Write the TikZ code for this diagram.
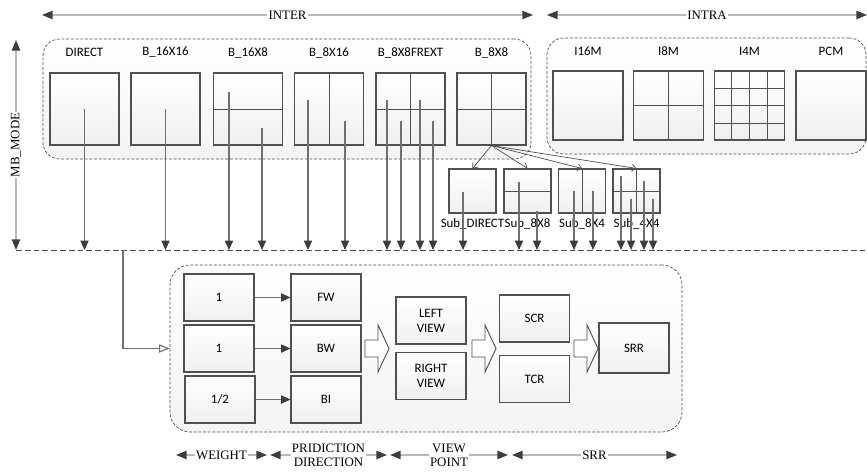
\documentclass[tikz,border=0pt]{standalone}
\usepackage{fontspec}
\setmainfont{Carlito}
\newfontfamily\axisfont{Liberation Serif}
\usetikzlibrary{arrows.meta,calc,positioning}
\definecolor{edgegray}{HTML}{505050}
\definecolor{linegray}{HTML}{707070}
\definecolor{tipgray}{HTML}{3C3C3C}
\tikzset{
  grp/.style={draw=edgegray, dash pattern=on 2.5pt off 1.5pt, line width=0.6pt, rounded corners=0.5cm, top color=white, bottom color=gray!9, inner sep=0pt},
  blk/.style={draw=edgegray, line width=0.9pt, top color=white, bottom color=gray!12, inner sep=0pt},
  mbox/.style={blk, minimum width=2.07cm, minimum height=2.16cm},
  ibox/.style={blk, minimum width=2.1cm, minimum height=2.07cm},
  sbox/.style={blk, minimum width=1.41cm, minimum height=1.32cm},
  fbox/.style={blk, minimum width=2.1cm, minimum height=1.41cm, align=center, font=\fontsize{11}{13}\selectfont},
  part/.style={draw=edgegray, line width=0.8pt},
  flow/.style={draw=linegray, line width=0.9pt, -{Triangle[length=8pt,width=7pt,color=tipgray]}},
  fork/.style={draw=edgegray, line width=0.6pt, -{Straight Barb[length=3.5pt,width=6pt]}},
  feed/.style={draw=linegray, line width=0.9pt, -{Triangle[open,length=9pt,width=7pt,fill=white]}},
  bus/.style={draw=edgegray, line width=0.7pt, dash pattern=on 5pt off 2.5pt},
  axis/.style={draw=gray!55, line width=1.4pt, {Triangle[length=9pt,width=7pt,color=tipgray]}-{Triangle[length=9pt,width=7pt,color=tipgray]}},
  axlbl/.style={fill=white, inner sep=1pt, align=center, font=\axisfont\fontsize{11}{12}\selectfont},
  lbl/.style={inner sep=0pt, font=\fontsize{11}{13}\selectfont},
  bigarrow/.style={draw=edgegray, line width=0.8pt, fill=white},
}
\begin{document}
\begin{tikzpicture}[x=0.03cm, y=-0.03cm]
  \useasboundingbox (0,0) rectangle (867,471);

  % mode groups
  \node[grp, minimum width=14.64cm, minimum height=3.6cm] (inter) at (287,99) {};
  \node[grp, minimum width=9.57cm, minimum height=3.48cm] (intra) at (706.5,96) {};

  % inter modes
  \node[mbox] (bdir) at (84.5,109) {};
  \node[mbox] (b1616) at (165.5,109) {};
  \node[mbox] (b168) at (248,109) {};
  \node[mbox] (b816) at (329,109) {};
  \node[mbox] (bfrext) at (410.5,109) {};
  \node[mbox] (b88) at (491.5,109) {};
  \node[lbl] at ($(bdir.north)+(0,-20)$) {DIRECT};
  \node[lbl] at ($(b1616.north)+(0,-20)$) {B\_16X16};
  \node[lbl] at ($(b168.north)+(0,-20)$) {B\_16X8};
  \node[lbl] at ($(b816.north)+(0,-20)$) {B\_8X16};
  \node[lbl] at ($(bfrext.north)+(0,-20)$) {B\_8X8FREXT};
  \node[lbl] at ($(b88.north)+(0,-20)$) {B\_8X8};
  \draw[part] (b168.west) -- (b168.east);
  \draw[part] (b816.north) -- (b816.south);
  \draw[part] (bfrext.north) -- (bfrext.south) (bfrext.west) -- (bfrext.east);
  \draw[part] (b88.north) -- (b88.south) (b88.west) -- (b88.east);

  % intra modes
  \node[ibox] (i16) at (588,105.5) {};
  \node[ibox] (i8) at (668.5,105.5) {};
  \node[ibox] (i4) at (749.5,105.5) {};
  \node[ibox] (pcm) at (831,105.5) {};
  \node[lbl] at ($(i16.north)+(0,-19)$) {I16M};
  \node[lbl] at ($(i8.north)+(0,-19)$) {I8M};
  \node[lbl] at ($(i4.north)+(0,-19)$) {I4M};
  \node[lbl] at ($(pcm.north)+(0,-19)$) {PCM};
  \draw[part] (i8.north) -- (i8.south) (i8.west) -- (i8.east);
  \foreach \f in {0.25,0.5,0.75} {
    \draw[part] ($(i4.north west)!\f!(i4.north east)$) -- ($(i4.south west)!\f!(i4.south east)$);
    \draw[part] ($(i4.north west)!\f!(i4.south west)$) -- ($(i4.north east)!\f!(i4.south east)$);
  }

  % sub partitions of B_8X8
  \node[sbox] (sdir) at (472.5,191) {};
  \node[sbox] (s88) at (527.5,191) {};
  \node[sbox] (s84) at (582,191) {};
  \node[sbox] (s44) at (636.5,191) {};
  \node[lbl, below=0.15cm of sdir] {Sub\_DIRECT};
  \node[lbl, below=0.15cm of s88] {Sub\_8X8};
  \node[lbl, below=0.15cm of s84] {Sub\_8X4};
  \node[lbl, below=0.15cm of s44] {Sub\_4X4};
  \draw[part] (s88.west) -- (s88.east);
  \draw[part] (s84.north) -- (s84.south);
  \draw[part] (s44.north) -- (s44.south) (s44.west) -- (s44.east);
  \foreach \s in {sdir,s88,s84,s44}
    \draw[fork] (b88.south) -- (\s.north);

  % mode axes
  \coordinate (interL) at (42,15);
  \coordinate (interR) at (533,15);
  \coordinate (intraL) at (547,15);
  \coordinate (intraR) at (867,15);
  \coordinate (mbT) at (16,40);
  \coordinate (mbB) at (16,250);
  \draw[axis] (interL) -- node[axlbl]{INTER} (interR);
  \draw[axis] (intraL) -- node[axlbl]{INTRA} (intraR);
  \draw[axis] (mbB) -- node[axlbl, rotate=90]{MB\_MODE} (mbT);

  % bus
  \coordinate (bus) at (16,250);
  \coordinate (busR) at (867,250);
  \draw[bus] (bus) -- (busR);
  \foreach \px/\py in {84.5/109, 165.5/109, 229/92, 262/128, 308/100, 345/121,
      387/100, 401/121, 420/100, 433/121, 463/192, 519/182, 537/211,
      574/191, 593/191, 621/176, 631/199, 644/181, 653/199} {
    \coordinate (t) at (\px,\py);
    \draw[flow] (t) -- (t |- bus);
  }

  % bi-prediction stage
  \node[grp, rounded corners=0.6cm, minimum width=15.36cm, minimum height=5.01cm] (low) at (426,348.5) {};
  \coordinate (tap) at (123,250);
  \draw[feed] (tap) |- (low.west);

  \node[fbox] (w1) at (219,297.5) {1};
  \node[fbox] (w2) at (219,348.5) {1};
  \node[fbox] (w3) at (220,399.5) {1/2};
  \node[fbox] (fw) at (326,297.5) {FW};
  \node[fbox] (bw) at (326,348.5) {BW};
  \node[fbox] (bi) at (326,399.5) {BI};
  \draw[flow] (w1) -- (fw);
  \draw[flow] (w2) -- (bw);
  \draw[flow] (w3) -- (bi);

  \node[fbox] (lv) at (431,320.5) {LEFT\\VIEW};
  \node[fbox] (rv) at (431,376) {RIGHT\\VIEW};
  \node[fbox] (scr) at (534.5,318.5) {SCR};
  \node[fbox] (tcr) at (534.5,379) {TCR};
  \node[fbox, minimum height=1.5cm] (srr) at (634,348) {SRR};

  \foreach \ax in {365,472,574}
    \draw[bigarrow] (\ax,340) -- ++(13,0) -- ++(0,-15) -- ++(11,23.5)
      -- ++(-11,23.5) -- ++(0,-15) -- ++(-13,0) -- cycle;

  % stage axes
  \coordinate (wA) at (176,455);
  \coordinate (wB) at (267,455);
  \coordinate (dA) at (270,455);
  \coordinate (dB) at (387,455);
  \coordinate (vA) at (390,455);
  \coordinate (vB) at (508,455);
  \coordinate (rA) at (512,455);
  \coordinate (rB) at (677,455);
  \draw[axis] (wA) -- node[axlbl]{WEIGHT} (wB);
  \draw[axis] (dA) -- node[axlbl]{PRIDICTION\\DIRECTION} (dB);
  \draw[axis] (vA) -- node[axlbl]{VIEW\\POINT} (vB);
  \draw[axis] (rA) -- node[axlbl]{SRR} (rB);
\end{tikzpicture}
\end{document}
